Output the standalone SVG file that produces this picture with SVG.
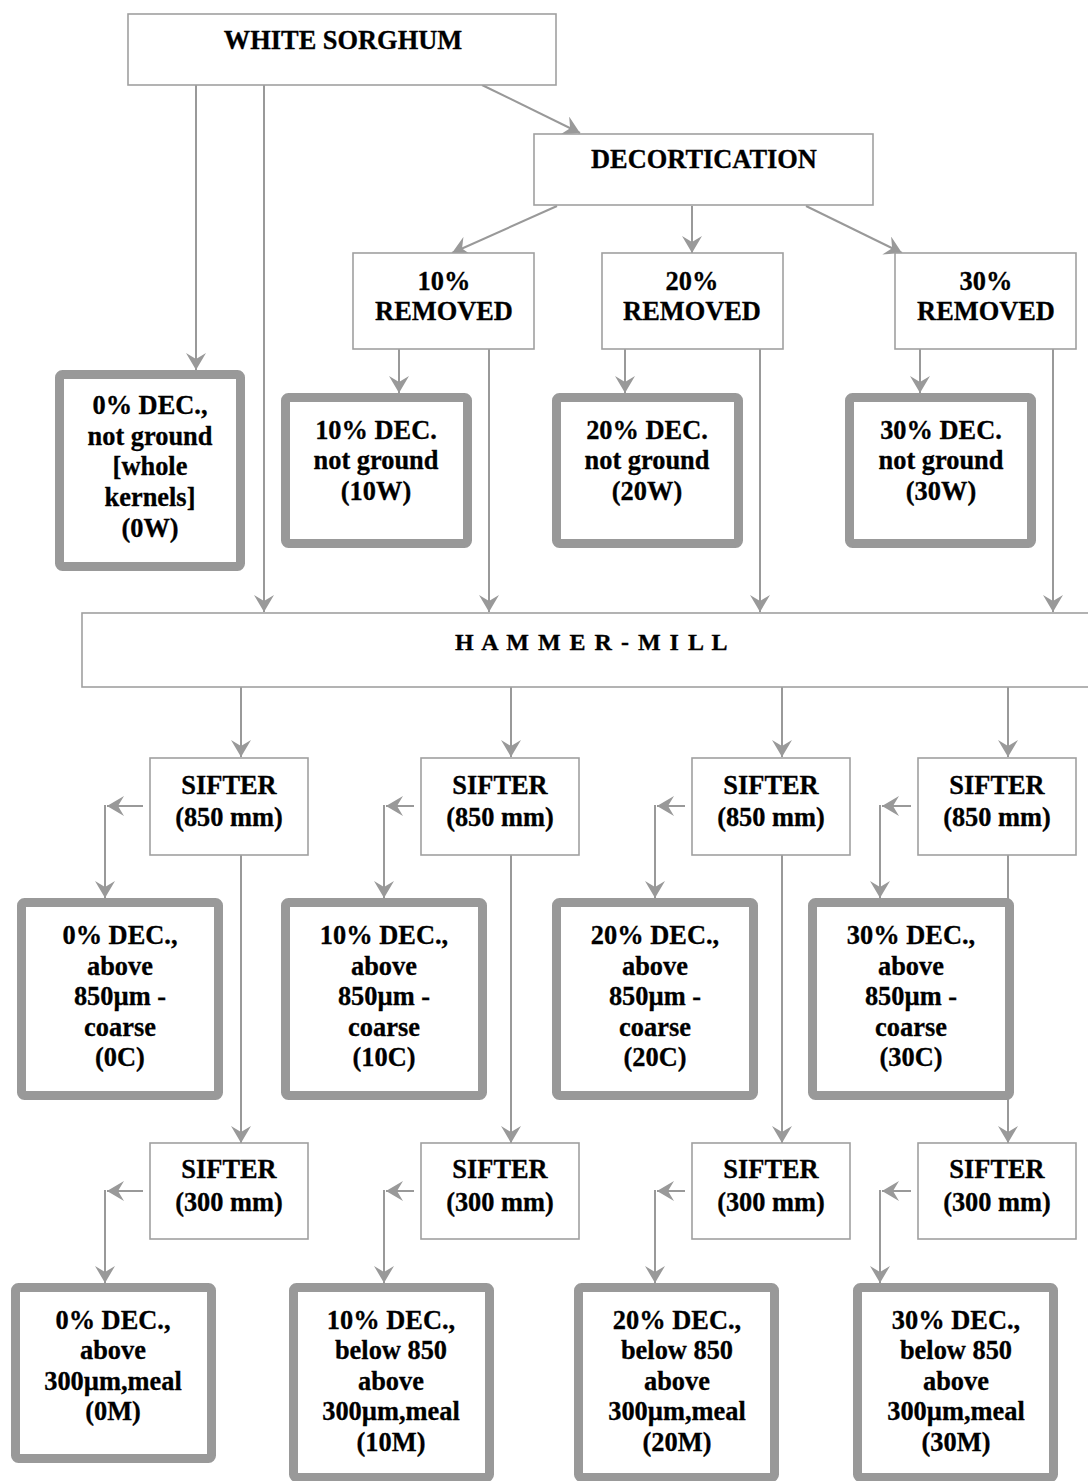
<svg xmlns="http://www.w3.org/2000/svg" width="1088" height="1481" viewBox="0 0 1088 1481">
<style>
.box{fill:#fff;stroke:#a0a0a0;stroke-width:1.6}
.tbox{fill:#fff;stroke:#999;stroke-width:9}
.ln{fill:none;stroke:#999;stroke-width:2}
.ar{marker-end:url(#ah)}
text{font-family:"Liberation Serif","Times New Roman",serif;font-weight:bold;font-size:26.4px;fill:#000;text-anchor:middle;stroke:#000;stroke-width:0.3px}
.hm{font-size:24px;letter-spacing:1.5px}
</style>
<defs>
<marker id="ah" markerUnits="userSpaceOnUse" viewBox="0 0 17 20" markerWidth="17" markerHeight="20" refX="17" refY="10" orient="auto">
<path d="M0,0 L17,10 L0,20 L6,10 Z" fill="#999"/>
</marker>
</defs>
<rect width="1088" height="1481" fill="#fff"/>
<g id="connectors">
<line class="ln ar" x1="196" y1="85" x2="196" y2="370"/>
<line class="ln ar" x1="264" y1="85" x2="264" y2="612"/>
<line class="ln ar" x1="482" y1="85" x2="580" y2="133"/>
<line class="ln ar" x1="557" y1="206" x2="452" y2="253"/>
<line class="ln ar" x1="692" y1="206" x2="692" y2="253"/>
<line class="ln ar" x1="806" y1="206" x2="902" y2="253"/>
<line class="ln ar" x1="399" y1="349" x2="399" y2="393"/>
<line class="ln ar" x1="489" y1="349" x2="489" y2="612"/>
<line class="ln ar" x1="625" y1="349" x2="625" y2="393"/>
<line class="ln ar" x1="760" y1="349" x2="760" y2="612"/>
<line class="ln ar" x1="920" y1="349" x2="920" y2="393"/>
<line class="ln ar" x1="1053" y1="349" x2="1053" y2="612"/>
<line class="ln ar" x1="241" y1="687" x2="241" y2="757"/>
<line class="ln ar" x1="511" y1="687" x2="511" y2="757"/>
<line class="ln ar" x1="782" y1="687" x2="782" y2="757"/>
<line class="ln ar" x1="1008" y1="687" x2="1008" y2="757"/>
<line class="ln ar" x1="143" y1="806" x2="107" y2="806"/>
<line class="ln ar" x1="105" y1="805" x2="105" y2="898"/>
<line class="ln ar" x1="414" y1="806" x2="386" y2="806"/>
<line class="ln ar" x1="384" y1="805" x2="384" y2="898"/>
<line class="ln ar" x1="685" y1="806" x2="657" y2="806"/>
<line class="ln ar" x1="655" y1="805" x2="655" y2="898"/>
<line class="ln ar" x1="911" y1="806" x2="882" y2="806"/>
<line class="ln ar" x1="880" y1="805" x2="880" y2="898"/>
<line class="ln ar" x1="241" y1="855" x2="241" y2="1143"/>
<line class="ln ar" x1="511" y1="855" x2="511" y2="1143"/>
<line class="ln ar" x1="782" y1="855" x2="782" y2="1143"/>
<line class="ln ar" x1="1008" y1="855" x2="1008" y2="1143"/>
<line class="ln ar" x1="143" y1="1191" x2="107" y2="1191"/>
<line class="ln ar" x1="105" y1="1190" x2="105" y2="1283"/>
<line class="ln ar" x1="414" y1="1191" x2="386" y2="1191"/>
<line class="ln ar" x1="384" y1="1190" x2="384" y2="1283"/>
<line class="ln ar" x1="685" y1="1191" x2="657" y2="1191"/>
<line class="ln ar" x1="655" y1="1190" x2="655" y2="1283"/>
<line class="ln ar" x1="911" y1="1191" x2="882" y2="1191"/>
<line class="ln ar" x1="880" y1="1190" x2="880" y2="1283"/>
</g>
<g id="white-sorghum"><rect class="box" x="128" y="14" width="428" height="71"/><text x="343" y="49">WHITE SORGHUM</text></g>
<g id="decortication"><rect class="box" x="534" y="134" width="339" height="71"/><text x="704" y="168">DECORTICATION</text></g>
<g id="removed10"><rect class="box" x="353" y="253" width="181" height="96"/><text x="444" y="290">10%</text><text x="444" y="320">REMOVED</text></g>
<g id="removed20"><rect class="box" x="602" y="253" width="181" height="96"/><text x="692" y="290">20%</text><text x="692" y="320">REMOVED</text></g>
<g id="removed30"><rect class="box" x="895" y="253" width="181" height="96"/><text x="986" y="290">30%</text><text x="986" y="320">REMOVED</text></g>
<g id="n0W"><rect class="tbox" x="59.5" y="374.5" width="181" height="192" rx="3"/><text x="150" y="414">0% DEC.,</text><text x="150" y="445">not ground</text><text x="150" y="475">[whole</text><text x="150" y="506">kernels]</text><text x="150" y="537">(0W)</text></g>
<g id="n10W"><rect class="tbox" x="285.5" y="397.5" width="182" height="146" rx="3"/><text x="376" y="439">10% DEC.</text><text x="376" y="469">not ground</text><text x="376" y="500">(10W)</text></g>
<g id="n20W"><rect class="tbox" x="556.5" y="397.5" width="182" height="146" rx="3"/><text x="647" y="439">20% DEC.</text><text x="647" y="469">not ground</text><text x="647" y="500">(20W)</text></g>
<g id="n30W"><rect class="tbox" x="849.5" y="397.5" width="182" height="146" rx="3"/><text x="941" y="439">30% DEC.</text><text x="941" y="469">not ground</text><text x="941" y="500">(30W)</text></g>
<g id="hammer-mill"><rect class="box" x="82" y="613" width="1012" height="74"/><text class="hm" x="592" y="650">H A M M E R - M I L L</text></g>
<g id="sifter850-1"><rect class="box" x="150" y="758" width="158" height="97"/><text x="229" y="794">SIFTER</text><text x="229" y="826">(850 mm)</text></g>
<g id="sifter850-2"><rect class="box" x="421" y="758" width="158" height="97"/><text x="500" y="794">SIFTER</text><text x="500" y="826">(850 mm)</text></g>
<g id="sifter850-3"><rect class="box" x="692" y="758" width="158" height="97"/><text x="771" y="794">SIFTER</text><text x="771" y="826">(850 mm)</text></g>
<g id="sifter850-4"><rect class="box" x="918" y="758" width="158" height="97"/><text x="997" y="794">SIFTER</text><text x="997" y="826">(850 mm)</text></g>
<g id="n0C"><rect class="tbox" x="21.5" y="902.5" width="197" height="193" rx="3"/><text x="120" y="944">0% DEC.,</text><text x="120" y="975">above</text><text x="120" y="1005">850µm -</text><text x="120" y="1036">coarse</text><text x="120" y="1066">(0C)</text></g>
<g id="n10C"><rect class="tbox" x="285.5" y="902.5" width="197" height="193" rx="3"/><text x="384" y="944">10% DEC.,</text><text x="384" y="975">above</text><text x="384" y="1005">850µm -</text><text x="384" y="1036">coarse</text><text x="384" y="1066">(10C)</text></g>
<g id="n20C"><rect class="tbox" x="556.5" y="902.5" width="197" height="193" rx="3"/><text x="655" y="944">20% DEC.,</text><text x="655" y="975">above</text><text x="655" y="1005">850µm -</text><text x="655" y="1036">coarse</text><text x="655" y="1066">(20C)</text></g>
<g id="n30C"><rect class="tbox" x="812.5" y="902.5" width="197" height="193" rx="3"/><text x="911" y="944">30% DEC.,</text><text x="911" y="975">above</text><text x="911" y="1005">850µm -</text><text x="911" y="1036">coarse</text><text x="911" y="1066">(30C)</text></g>
<g id="sifter300-1"><rect class="box" x="150" y="1143" width="158" height="96"/><text x="229" y="1178">SIFTER</text><text x="229" y="1211">(300 mm)</text></g>
<g id="sifter300-2"><rect class="box" x="421" y="1143" width="158" height="96"/><text x="500" y="1178">SIFTER</text><text x="500" y="1211">(300 mm)</text></g>
<g id="sifter300-3"><rect class="box" x="692" y="1143" width="158" height="96"/><text x="771" y="1178">SIFTER</text><text x="771" y="1211">(300 mm)</text></g>
<g id="sifter300-4"><rect class="box" x="918" y="1143" width="158" height="96"/><text x="997" y="1178">SIFTER</text><text x="997" y="1211">(300 mm)</text></g>
<g id="n0M"><rect class="tbox" x="15.5" y="1287.5" width="196" height="171" rx="3"/><text x="113" y="1329">0% DEC.,</text><text x="113" y="1359">above</text><text x="113" y="1390">300µm,meal</text><text x="113" y="1420">(0M)</text></g>
<g id="n10M"><rect class="tbox" x="293.5" y="1287.5" width="196" height="190" rx="3"/><text x="391" y="1329">10% DEC.,</text><text x="391" y="1359">below 850</text><text x="391" y="1390">above</text><text x="391" y="1420">300µm,meal</text><text x="391" y="1451">(10M)</text></g>
<g id="n20M"><rect class="tbox" x="578.5" y="1287.5" width="196" height="190" rx="3"/><text x="677" y="1329">20% DEC.,</text><text x="677" y="1359">below 850</text><text x="677" y="1390">above</text><text x="677" y="1420">300µm,meal</text><text x="677" y="1451">(20M)</text></g>
<g id="n30M"><rect class="tbox" x="857.5" y="1287.5" width="196" height="190" rx="3"/><text x="956" y="1329">30% DEC.,</text><text x="956" y="1359">below 850</text><text x="956" y="1390">above</text><text x="956" y="1420">300µm,meal</text><text x="956" y="1451">(30M)</text></g>
</svg>
